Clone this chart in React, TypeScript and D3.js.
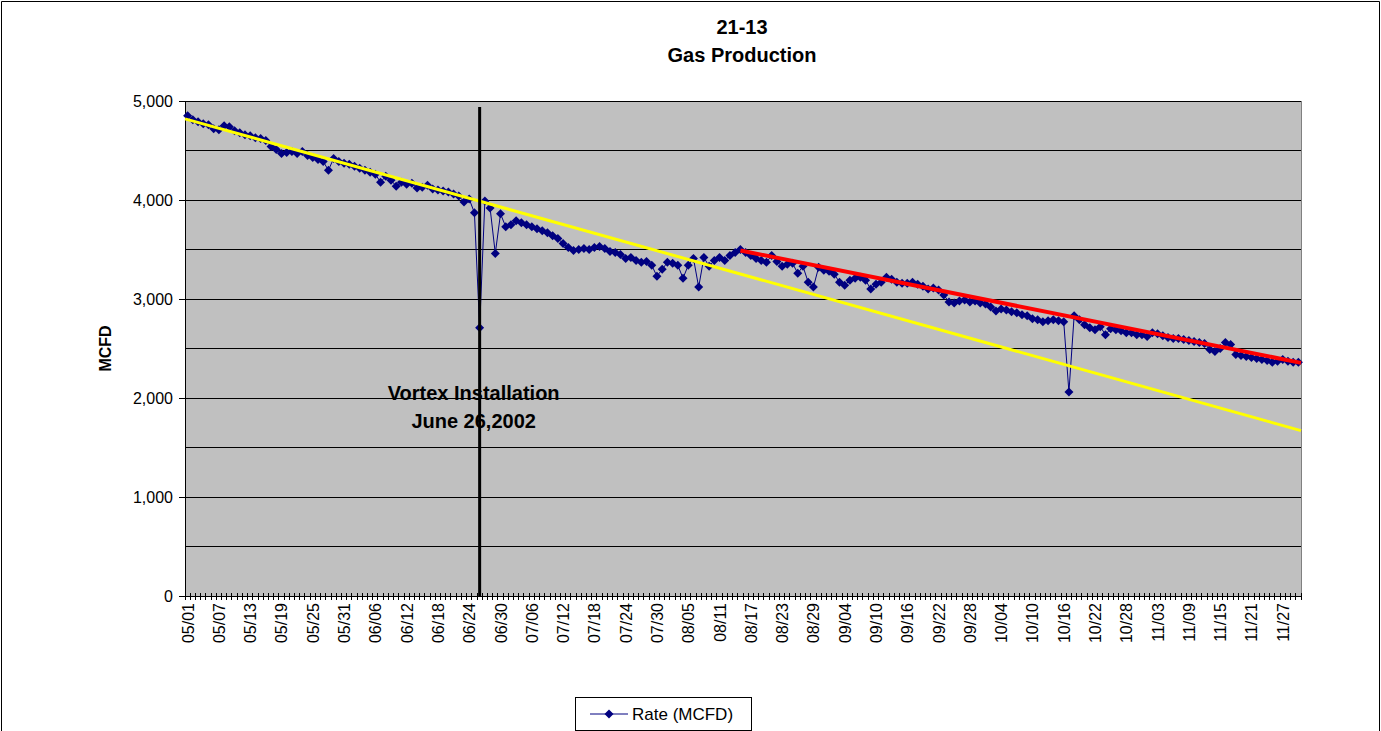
import React from "react";
import * as d3 from "d3";

// daily dates 05/01/2002 .. 11/30/2002
const days = d3.timeDay.range(new Date(2002, 4, 1), new Date(2002, 11, 1));
const categories = days.map(d3.timeFormat("%m/%d"));

const rate = [
  // May
  4850, 4810, 4790, 4770, 4760, 4720, 4710, 4750, 4740, 4700,
  4680, 4660, 4650, 4630, 4620, 4600, 4540, 4510, 4470, 4480,
  4490, 4470, 4490, 4450, 4430, 4410, 4390, 4300, 4420, 4390,
  4370,
  // June
  4360, 4340, 4320, 4300, 4280, 4260, 4180, 4240, 4200, 4140,
  4180, 4160, 4170, 4120, 4130, 4150, 4110, 4100, 4090, 4080,
  4060, 4040, 3980, 4010, 3870, 2710, 3990, 3920, 3460, 3860,
  // July
  3730, 3750, 3790, 3770, 3750, 3730, 3710, 3690, 3670, 3640,
  3610, 3560, 3520, 3490, 3500, 3510, 3500, 3520, 3530, 3510,
  3480, 3470, 3450, 3410, 3420, 3390, 3370, 3380, 3340, 3230,
  3300,
  // August
  3370, 3360, 3340, 3210, 3340, 3410, 3120, 3420, 3330, 3390,
  3420, 3390, 3440, 3470, 3500, 3470, 3440, 3410, 3390, 3370,
  3440, 3380, 3330, 3350, 3360, 3260, 3330, 3170, 3120, 3320,
  3290,
  // September
  3280, 3250, 3170, 3140, 3190, 3210, 3220, 3190, 3100, 3150,
  3170, 3220, 3200, 3170, 3160, 3160, 3170, 3150, 3130, 3100,
  3110, 3090, 3040, 2970, 2960, 2980, 2990, 2970, 2980, 2960,
  // October
  2950, 2920, 2880, 2900, 2890, 2870, 2860, 2840, 2830, 2800,
  2790, 2770, 2780, 2790, 2780, 2770, 2060, 2830, 2790, 2740,
  2710, 2690, 2720, 2640, 2700, 2690, 2680, 2660, 2660, 2640,
  2640,
  // November
  2620, 2660, 2650, 2630, 2610, 2600, 2600, 2590, 2580, 2570,
  2560, 2550, 2490, 2470, 2500, 2560, 2540, 2440, 2430, 2420,
  2410, 2400, 2390, 2380, 2360, 2370, 2390, 2370, 2360, 2360,
];

const yTicks = [0, 1000, 2000, 3000, 4000, 5000];
const gridLines = [500, 1000, 1500, 2000, 2500, 3000, 3500, 4000, 4500, 5000];
const labelEvery = 6;

// trend lines (values at start / end)
const yellowTrend = [4820, 1670];
const redTrendStart = "08/15";
const redTrend = [3490, 2355];

const vortexDay = "06/26";
const annotation = ["Vortex Installation", "June 26,2002"];
const title = ["21-13", "Gas Production"];

const W = 1381;
const H = 731;
const left = 185;
const right = 1301;
const top = 101;
const bottom = 596;
const font = "Arial, 'Liberation Sans', sans-serif";

const x = d3.scaleBand<string>().domain(categories).range([left, right]).padding(0);
const y = d3.scaleLinear().domain([0, 5000]).range([bottom, top]);
const cx = (c: string) => (x(c) as number) + x.bandwidth() / 2;

const rateLine = d3
  .line<number>()
  .x((_, i) => cx(categories[i]))
  .y((v) => y(v));

const diamond = "M0,-4.5L4.5,0L0,4.5L-4.5,0Z";

export default function App() {
  const vx = cx(vortexDay);
  return (
    <svg width={W} height={H} style={{ position: "absolute", left: 0, top: 0, background: "#fff" }} fontFamily={font}>
      <path d={`M1.5,${H}V1.5H1379.5V${H}`} fill="none" stroke="#000" />

      {title.map((t, i) => (
        <text key={t} x={742} y={34 + i * 28} textAnchor="middle" fontSize={20} fontWeight="bold">
          {t}
        </text>
      ))}

      <rect x={left} y={top} width={right - left} height={bottom - top} fill="#c0c0c0" />
      {gridLines.map((g) => (
        <line key={g} x1={left} x2={right} y1={y(g)} y2={y(g)} stroke="#000" strokeWidth={1} shapeRendering="crispEdges" />
      ))}
      <line x1={right} x2={right} y1={top} y2={bottom} stroke="#808080" shapeRendering="crispEdges" />

      {/* y axis */}
      <line x1={left} x2={left} y1={top} y2={bottom} stroke="#000" shapeRendering="crispEdges" />
      {yTicks.map((t) => (
        <g key={t}>
          <line x1={left - 6} x2={left} y1={y(t)} y2={y(t)} stroke="#000" shapeRendering="crispEdges" />
          <text x={left - 12} y={y(t)} dy="0.35em" textAnchor="end" fontSize={16}>
            {d3.format(",")(t)}
          </text>
        </g>
      ))}
      <text transform={`translate(111,${(top + bottom) / 2}) rotate(-90)`} textAnchor="middle" fontSize={16} fontWeight="bold">
        MCFD
      </text>

      {/* x axis */}
      <line x1={left} x2={right} y1={bottom} y2={bottom} stroke="#000" shapeRendering="crispEdges" />
      {categories.map((c) => (
        <line key={c} x1={x(c)} x2={x(c)} y1={bottom - 3} y2={bottom + 4} stroke="#000" shapeRendering="crispEdges" />
      ))}
      <line x1={right} x2={right} y1={bottom - 3} y2={bottom + 4} stroke="#000" shapeRendering="crispEdges" />
      {categories
        .filter((_, i) => i % labelEvery === 0)
        .map((c) => (
          <text key={c} transform={`translate(${cx(c) + 6},${bottom + 7}) rotate(-90)`} textAnchor="end" fontSize={16}>
            {c}
          </text>
        ))}

      {/* series */}
      <path d={rateLine(rate) ?? ""} fill="none" stroke="#000080" strokeWidth={1} />
      {rate.map((v, i) => (
        <path key={i} d={diamond} transform={`translate(${cx(categories[i])},${y(v)})`} fill="#000080" />
      ))}

      {/* trend lines */}
      <line x1={left} x2={right} y1={y(yellowTrend[0])} y2={y(yellowTrend[1])} stroke="#ffff00" strokeWidth={3} />
      <line x1={cx(redTrendStart)} x2={right} y1={y(redTrend[0])} y2={y(redTrend[1])} stroke="#ff0000" strokeWidth={4} />

      {/* vortex installation marker */}
      <line x1={vx} x2={vx} y1={107} y2={bottom} stroke="#000" strokeWidth={3} />
      {annotation.map((t, i) => (
        <text key={t} x={vx - 6} y={400 + i * 28} textAnchor="middle" fontSize={20} fontWeight="bold">
          {t}
        </text>
      ))}

      {/* legend */}
      <rect x={575.5} y={697.5} width={176} height={33} fill="#fff" stroke="#000" />
      <line x1={590} x2={628} y1={714} y2={714} stroke="#000080" />
      <path d={diamond} transform="translate(609,714)" fill="#000080" />
      <text x={632} y={714} dy="0.35em" fontSize={17}>
        Rate (MCFD)
      </text>
    </svg>
  );
}
